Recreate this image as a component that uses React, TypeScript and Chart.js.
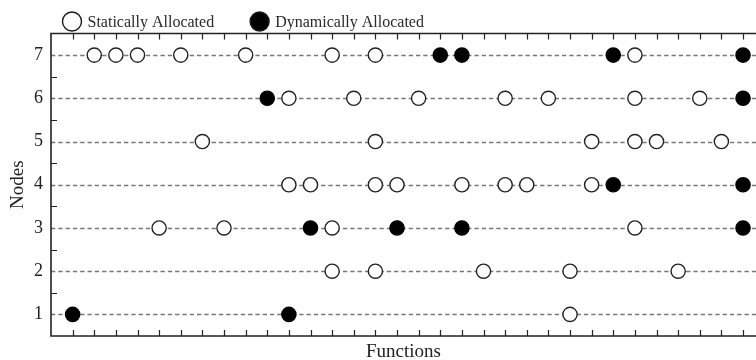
import React, { useEffect, useRef } from "react";
import { Chart, registerables } from "chart.js";

Chart.register(...registerables);

// Node rows (y values)
const nodes = [1, 2, 3, 4, 5, 6, 7];
// Function indices per node (index i of array -> nodes[i])
const staticFunctions: number[][] = [
  [23],
  [12, 14, 19, 23, 28],
  [4, 7, 12, 26],
  [10, 11, 14, 15, 18, 20, 21, 24],
  [6, 14, 24, 26, 27, 30],
  [10, 13, 16, 20, 22, 26, 29],
  [1, 2, 3, 5, 8, 12, 14, 26],
];
const dynamicFunctions: number[][] = [
  [0, 10],
  [],
  [11, 15, 18, 31],
  [25, 31],
  [],
  [9, 31],
  [17, 18, 25, 31],
];
const functionTicks = Array.from({ length: 32 }, (_, i) => i);
const seriesLabels = ["Statically Allocated", "Dynamically Allocated"];

const SERIF = "'Liberation Serif', 'DejaVu Serif', serif";

const toPoints = (rows: number[][]) =>
  rows.flatMap((fns, i) => fns.map((f) => ({ x: f, y: nodes[i] })));

const framePlugin = {
  id: "frame",
  beforeDatasetsDraw(chart: any) {
    const { ctx, chartArea, scales } = chart;
    const y = scales.y;
    ctx.save();
    ctx.strokeStyle = "#777777";
    ctx.lineWidth = 1.7;
    ctx.setLineDash([4.3, 3]);
    nodes.forEach((n) => {
      const py = Math.round(y.getPixelForValue(n)) + 0.5;
      ctx.beginPath();
      ctx.moveTo(chartArea.left, py);
      ctx.lineTo(chartArea.right, py);
      ctx.stroke();
    });
    ctx.restore();
  },
  afterDatasetsDraw(chart: any) {
    const { ctx, chartArea, scales } = chart;
    const { left, right, top, bottom } = chartArea;
    const x = scales.x;
    const y = scales.y;
    ctx.save();
    ctx.strokeStyle = "#222222";
    ctx.lineWidth = 1.6;
    ctx.setLineDash([]);
    ctx.beginPath();
    ctx.moveTo(right, top);
    ctx.lineTo(left, top);
    ctx.lineTo(left, bottom);
    ctx.lineTo(right, bottom);
    ctx.stroke();
    const tl = 6;
    ctx.lineWidth = 1.2;
    ctx.beginPath();
    functionTicks.forEach((f) => {
      const px = Math.round(x.getPixelForValue(f)) + 0.5;
      ctx.moveTo(px, bottom);
      ctx.lineTo(px, bottom - tl);
      ctx.moveTo(px, top);
      ctx.lineTo(px, top + tl);
    });
    nodes.slice(0, -1).forEach((n) => {
      const py = Math.round(y.getPixelForValue(n + 0.5)) + 0.5;
      ctx.moveTo(left, py);
      ctx.lineTo(left + tl, py);
    });
    ctx.stroke();
    ctx.restore();
  },
};

const legendPlugin = {
  id: "customLegend",
  afterDraw(chart: any) {
    const { ctx, chartArea } = chart;
    const cy = 21.5;
    const r = 9.5;
    ctx.save();
    ctx.font = `16px ${SERIF}`;
    ctx.textBaseline = "middle";
    ctx.textAlign = "left";
    let cx = chartArea.left + 21;
    seriesLabels.forEach((label, i) => {
      ctx.beginPath();
      ctx.arc(cx, cy, r, 0, Math.PI * 2);
      ctx.fillStyle = i === 0 ? "#ffffff" : "#000000";
      ctx.fill();
      ctx.lineWidth = 1.4;
      ctx.strokeStyle = "#1a1a1a";
      ctx.stroke();
      ctx.fillStyle = "#2a2a2a";
      const tx = cx + r + 6;
      ctx.fillText(label, tx, cy + 1);
      const w = ctx.measureText(label).width;
      cx = tx + w + 36 + r;
    });
    ctx.restore();
  },
};

export default function App() {
  const canvasRef = useRef<HTMLCanvasElement | null>(null);

  useEffect(() => {
    if (!canvasRef.current) return;
    const chart = new Chart(canvasRef.current, {
      type: "scatter",
      data: {
        datasets: [
          {
            label: seriesLabels[0],
            data: toPoints(staticFunctions),
            pointRadius: 7.1,
            pointHoverRadius: 7.1,
            pointBorderWidth: 1.4,
            pointBackgroundColor: "#ffffff",
            pointBorderColor: "#222222",
          },
          {
            label: seriesLabels[1],
            data: toPoints(dynamicFunctions),
            pointRadius: 7.1,
            pointHoverRadius: 7.1,
            pointBorderWidth: 1.4,
            pointBackgroundColor: "#000000",
            pointBorderColor: "#000000",
          },
        ],
      },
      options: {
        animation: false,
        responsive: false,
        devicePixelRatio: 1,
        layout: { autoPadding: false, padding: { top: 33.5, left: 0, right: 0, bottom: 0 } },
        plugins: {
          legend: { display: false },
          tooltip: { enabled: false },
        },
        scales: {
          x: {
            type: "linear",
            min: -1,
            max: 31.6,
            ticks: { display: false },
            grid: { display: false, drawTicks: false },
            border: { display: false },
            title: {
              display: true,
              text: "Functions",
              color: "#222",
              font: { family: SERIF, size: 19, lineHeight: 0.8 },
              padding: 0,
            },
            afterFit: (s: any) => {
              s.height = 24;
            },
          },
          y: {
            type: "linear",
            min: 0.5,
            max: 7.5,
            afterBuildTicks: (s: any) => {
              s.ticks = nodes.map((v) => ({ value: v }));
            },
            ticks: {
              color: "#222",
              font: { family: SERIF, size: 18 },
              padding: 8,
            },
            grid: { display: false, drawTicks: false },
            border: { display: false },
            title: {
              display: true,
              text: "Nodes",
              color: "#222",
              font: { family: SERIF, size: 19, lineHeight: 1.2 },
              padding: { top: 7, bottom: 0 },
            },
            afterFit: (s: any) => {
              s.width = 51;
            },
          },
        },
      },
      plugins: [framePlugin, legendPlugin],
    });
    return () => chart.destroy();
  }, []);

  return (
    <div style={{ position: "absolute", left: 0, top: 0, width: 756, height: 360, background: "#fff" }}>
      <canvas ref={canvasRef} width={756} height={360} />
    </div>
  );
}
